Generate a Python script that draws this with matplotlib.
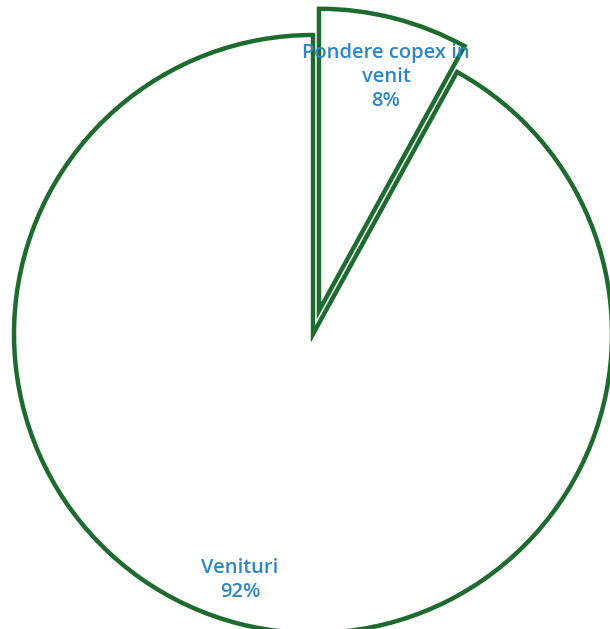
import matplotlib
matplotlib.use("Agg")
import matplotlib.pyplot as plt

categories = ["Pondere copex in\nvenit", "Venituri"]
values = [8, 92]
pct_labels = ["8%", "92%"]

W, H = 610, 629
fig = plt.figure(figsize=(W / 100, H / 100), dpi=100)
ax = fig.add_axes([0, 0, 1, 1])
ax.set_xlim(0, W)
ax.set_ylim(0, H)
ax.set_aspect("equal")
ax.axis("off")

green = "#1d6b2f"
blue = "#2f86c5"

wedges, _ = ax.pie(values, radius=299, center=(313, H - 334), startangle=90,
                   counterclock=False, explode=[24, 0],
                   colors=["white", "white"],
                   wedgeprops=dict(edgecolor=green, linewidth=3.2, joinstyle="miter"))
wedges[0].set_radius(302)

label_pos = [(386, H - 77), (240, H - 580)]
for (x, y), cat, pct in zip(label_pos, categories, pct_labels):
    ax.text(x, y, f"{cat}\n{pct}", ha="center", va="center", color=blue,
            fontsize=14.5, family=["Open Sans", "DejaVu Sans"], weight="semibold",
            linespacing=1.25)

ax.set_xlim(0, W)
ax.set_ylim(0, H)
fig.savefig("out.png", dpi=100)
